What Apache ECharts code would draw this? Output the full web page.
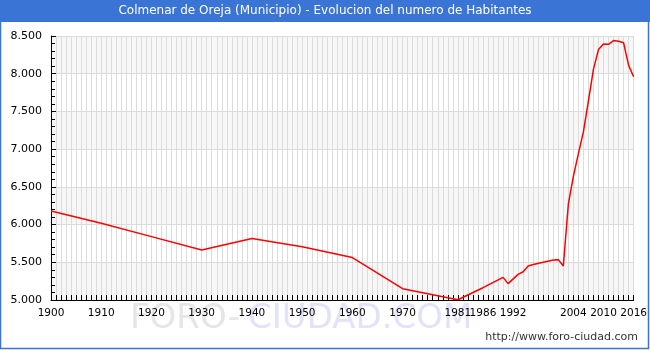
<!DOCTYPE html>
<html>
<head>
<meta charset="utf-8">
<script src="https://cdn.jsdelivr.net/npm/echarts@6/dist/echarts.min.js"></script>
<style>
html,body{margin:0;padding:0;background:#fff;}
#c{width:650px;height:350px;}
</style>
</head>
<body>
<div id="c"></div>
<script>
const titleText = 'Colmenar de Oreja (Municipio) - Evolucion del numero de Habitantes';
const years = [1900,1910,1920,1930,1940,1950,1960,1970,1981,1986,1990,1991,1993,1994,1995,1996,1998,2000,2001,2002,2003,2004,2005,2006,2007,2008,2009,2010,2011,2012,2013,2014,2015,2016];
const habitantes = [6180,6017,5840,5663,5815,5707,5563,5150,5003,5163,5300,5217,5340,5375,5450,5470,5500,5530,5535,5450,6270,6640,6940,7230,7640,8060,8320,8395,8390,8440,8430,8410,8110,7960];
const xLabelYears = [1900,1910,1920,1930,1940,1950,1960,1970,1981,1986,1992,2004,2010,2016];
const yTicks = [5000,5500,6000,6500,7000,7500,8000,8500];

const chart = echarts.init(document.getElementById('c'), null, {renderer:'canvas'});
const FONT = 'DejaVu Sans';
const fmtThousands = v => String(v).replace(/\B(?=(\d{3})+(?!\d))/g, '.');

chart.setOption({
  animation: false,
  backgroundColor: '#ffffff',
  textStyle: {fontFamily: FONT},
  grid: {left: 51, right: 15, top: 36, bottom: 50, containLabel: false},
  xAxis: {
    type: 'value',
    min: 1900, max: 2016, interval: 1,
    z: 3,
    axisLine: {show: true, lineStyle: {color: '#000', width: 1}},
    axisTick: {show: true, inside: true, length: 5, lineStyle: {color: '#000'}},
    axisLabel: {
      show: true, margin: 8, color: '#000', fontFamily: FONT, fontSize: 10.5,
      showMinLabel: true, showMaxLabel: true,
      formatter: v => xLabelYears.indexOf(v) >= 0 ? String(v) : ''
    },
    splitLine: {show: true, lineStyle: {color: '#dcdcdc', width: 1}}
  },
  yAxis: {
    type: 'value',
    min: yTicks[0], max: yTicks[yTicks.length-1], interval: 500,
    z: 3,
    axisLine: {show: true, lineStyle: {color: '#000', width: 1}},
    axisTick: {show: true, inside: true, length: 5, lineStyle: {color: '#000'}},
    minorTick: {show: true, splitNumber: 5, length: 4, lineStyle: {color: '#000'}},
    axisLabel: {margin: 9, color: '#000', fontFamily: FONT, fontSize: 11, formatter: v => fmtThousands(v)},
    splitLine: {show: true, lineStyle: {color: '#dcdcdc', width: 1}},
    splitArea: {show: true, areaStyle: {color: ['#f7f7f7', '#ffffff']}}
  },
  series: [{
    type: 'line',
    data: years.map((y, i) => [y, habitantes[i]]),
    showSymbol: false,
    lineStyle: {color: '#ff0000', width: 1.5},
    z: 5
  }],
  graphic: [
    {type: 'text', left: 130, top: 302, z: -10, silent: true,
     style: {text: 'FORO-', fill: '#e6e6e6', font: '34px "DejaVu Sans"'}},
    {type: 'text', left: 248, top: 302, z: -10, silent: true,
     style: {text: 'CIUDAD.COM', fill: '#e2e2fb', font: '34px "DejaVu Sans"'}},
    {type: 'rect', left: 0, top: 0, z: 10, silent: true,
     shape: {x: 0, y: 0, width: 650, height: 22}, style: {fill: '#3a75d6'}},
    {type: 'text', z: 11, silent: true, x: 325, y: 11,
     style: {text: titleText, fill: '#ffffff', font: '12px "DejaVu Sans"', textAlign: 'center', textVerticalAlign: 'middle'}},
    {type: 'rect', z: 10, silent: true,
     shape: {x: 0.5, y: 0.5, width: 648, height: 348}, style: {fill: 'none', stroke: '#3a75d6', lineWidth: 1.5}},
    {type: 'text', z: 11, silent: true, right: 12, top: 332,
     style: {text: 'http://www.foro-ciudad.com', fill: '#333', font: '11px "DejaVu Sans"'}}
  ]
});
</script>
</body>
</html>
